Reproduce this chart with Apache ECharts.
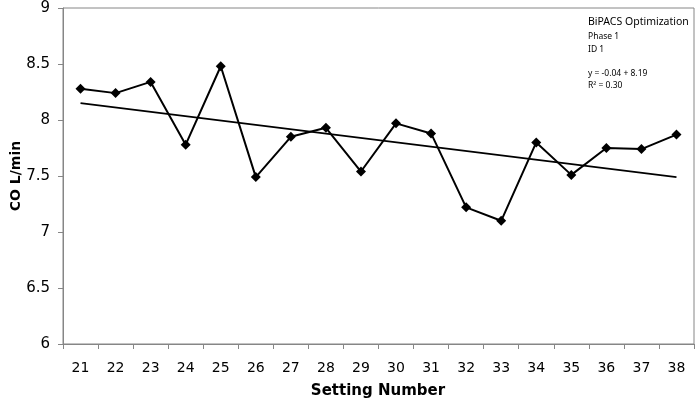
<!DOCTYPE html>
<html>
<head>
<meta charset="utf-8">
<script src="https://cdn.jsdelivr.net/npm/echarts@6/dist/echarts.min.js"></script>
<style>
html,body{margin:0;padding:0;background:#fff;}
#chart{width:700px;height:403px;}
</style>
</head>
<body>
<div id="chart"></div>
<script>
var categories = ['21','22','23','24','25','26','27','28','29','30','31','32','33','34','35','36','37','38'];
var coValues = [8.28, 8.24, 8.34, 7.78, 8.48, 7.49, 7.85, 7.93, 7.54, 7.97, 7.88, 7.22, 7.10, 7.80, 7.51, 7.75, 7.74, 7.87];
var trendStart = ['21', 8.15];
var trendEnd = ['38', 7.49];
var yTicks = {min: 6, max: 9, step: 0.5};
var infoLines = ['BiPACS Optimization', 'Phase 1', 'ID 1', '', 'y = -0.04 + 8.19', 'R\u00B2 = 0.30'];

var chart = echarts.init(document.getElementById('chart'), null, {renderer: 'canvas'});
var font = 'DejaVu Sans, Verdana, sans-serif';
var smallFont = '"Noto Sans", sans-serif';
var axisGray = '#868686';

var option = {
  animation: false,
  backgroundColor: '#ffffff',
  grid: {left: 63, right: 6, top: 8, bottom: 59, show: true, borderColor: axisGray, borderWidth: 1},
  xAxis: {
    type: 'category',
    data: categories,
    boundaryGap: true,
    axisLine: {lineStyle: {color: axisGray, width: 1}},
    axisTick: {show: true, length: 5, interval: 0, lineStyle: {color: axisGray}},
    axisLabel: {interval: 0, color: '#000', fontFamily: font, fontSize: 14, margin: 17},
    splitLine: {show: false}
  },
  yAxis: {
    type: 'value',
    min: yTicks.min, max: yTicks.max, interval: yTicks.step,
    axisLine: {show: true, lineStyle: {color: axisGray, width: 1}},
    axisTick: {show: true, length: 5, lineStyle: {color: axisGray}},
    axisLabel: {color: '#000', fontFamily: font, fontSize: 15, margin: 13,
      formatter: function (v) { return String(Math.round(v * 10) / 10); }},
    splitLine: {show: false}
  },
  series: [
    {
      type: 'line',
      data: coValues,
      symbol: 'diamond',
      symbolSize: 10,
      itemStyle: {color: '#000'},
      lineStyle: {color: '#000', width: 2},
      z: 3
    },
    {
      type: 'line',
      data: [trendStart, trendEnd],
      symbol: 'none',
      lineStyle: {color: '#000', width: 1.8},
      z: 2
    }
  ],
  graphic: [
    {type: 'text', style: {text: 'CO L/min', font: 'bold 14px ' + font, fill: '#000', textAlign: 'center', textVerticalAlign: 'middle'},
     x: 16, y: 176, rotation: Math.PI / 2},
    {type: 'text', style: {text: 'Setting Number', font: 'bold 15px ' + font, fill: '#000', textAlign: 'center', textVerticalAlign: 'middle'},
     x: 378, y: 391},
    {type: 'text', style: {text: infoLines[0], font: '10.5px ' + smallFont, fill: '#000', textVerticalAlign: 'middle'}, x: 588, y: 22},
    {type: 'text', style: {text: infoLines[1], font: '8.5px ' + smallFont, fill: '#000', textVerticalAlign: 'middle'}, x: 588, y: 37},
    {type: 'text', style: {text: infoLines[2], font: '8.5px ' + smallFont, fill: '#000', textVerticalAlign: 'middle'}, x: 588, y: 50},
    {type: 'text', style: {text: infoLines[4], font: '8.5px ' + smallFont, fill: '#000', textVerticalAlign: 'middle'}, x: 588, y: 74},
    {type: 'text', style: {text: infoLines[5], font: '8.5px ' + smallFont, fill: '#000', textVerticalAlign: 'middle'}, x: 588, y: 86}
  ]
};
chart.setOption(option);
</script>
</body>
</html>
